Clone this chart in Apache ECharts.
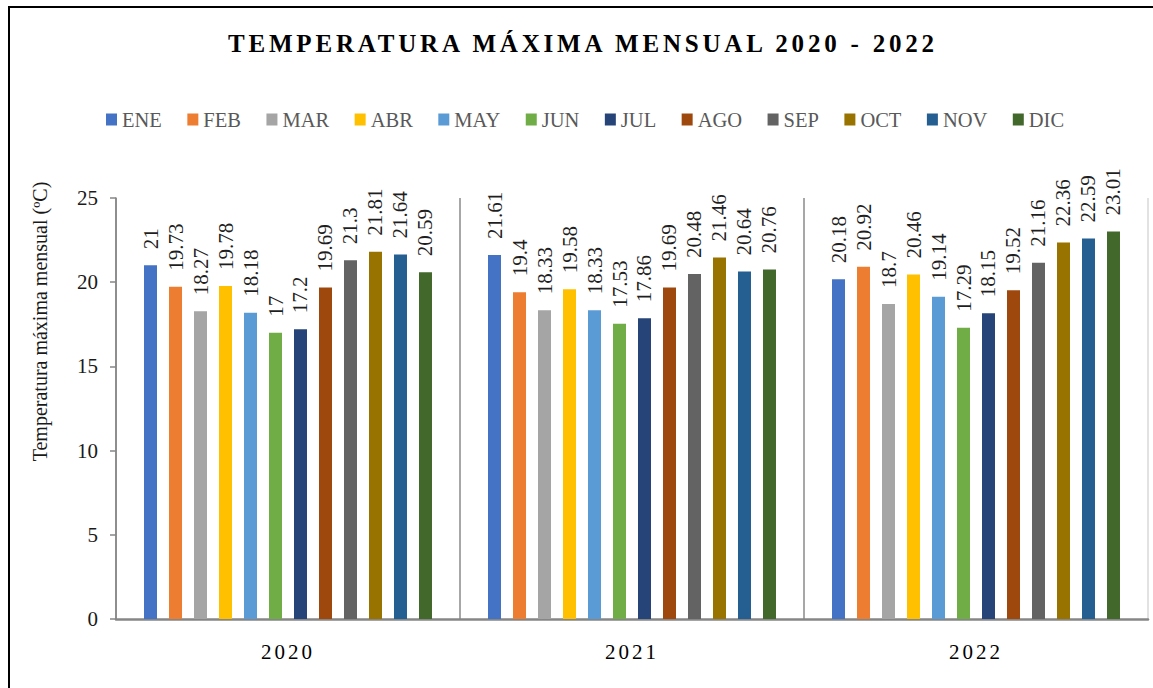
<!DOCTYPE html>
<html>
<head>
<meta charset="utf-8">
<script src="https://cdn.jsdelivr.net/npm/echarts@6/dist/echarts.min.js"></script>
<style>
  html, body { margin: 0; padding: 0; background: #fff; }
  #chart { width: 1153px; height: 688px; }
</style>
</head>
<body>
<div id="chart"></div>
<script>
// ---- data ----
const TITLE = 'TEMPERATURA MÁXIMA MENSUAL 2020 - 2022';
const Y_NAME = 'Temperatura máxima mensual (ºC)';
const categories = ['2020', '2021', '2022'];
const months = ['ENE', 'FEB', 'MAR', 'ABR', 'MAY', 'JUN', 'JUL', 'AGO', 'SEP', 'OCT', 'NOV', 'DIC'];
const ENE = [21, 21.61, 20.18];
const FEB = [19.73, 19.4, 20.92];
const MAR = [18.27, 18.33, 18.7];
const ABR = [19.78, 19.58, 20.46];
const MAY = [18.18, 18.33, 19.14];
const JUN = [17, 17.53, 17.29];
const JUL = [17.2, 17.86, 18.15];
const AGO = [19.69, 19.69, 19.52];
const SEP = [21.3, 20.48, 21.16];
const OCT = [21.81, 21.46, 22.36];
const NOV = [21.64, 20.64, 22.59];
const DIC = [20.59, 20.76, 23.01];
const monthValues = [ENE, FEB, MAR, ABR, MAY, JUN, JUL, AGO, SEP, OCT, NOV, DIC];
const yMin = 0, yMax = 25, yStep = 5;

// ---- styles ----
const colors = ['#4472C4', '#ED7D31', '#A5A5A5', '#FFC000', '#5B9BD5', '#70AD47',
                '#264478', '#9E480E', '#636363', '#997300', '#255E91', '#43682B'];
const FONT = 'Liberation Serif';

const series = months.map((m, i) => ({
  name: m,
  type: 'bar',
  data: monthValues[i],
  barWidth: 13,
  barGap: '92.3%',
  itemStyle: { color: colors[i] },
  label: {
    show: true,
    position: 'top',
    distance: 16,
    rotate: 90,
    align: 'left',
    verticalAlign: 'middle',
    fontFamily: FONT,
    fontSize: 21,
    color: '#1f1f1f',
    textBorderWidth: 0
  }
}));

const chart = echarts.init(document.getElementById('chart'), null, { renderer: 'svg' });
chart.setOption({
  animation: false,
  backgroundColor: '#fff',
  color: colors,
  textStyle: { fontFamily: FONT },
  title: {
    text: TITLE,
    left: 223,
    top: 26,
    textStyle: { fontFamily: FONT, fontSize: 25, fontWeight: 'bold', color: '#000' }
  },
  legend: {
    left: 101,
    top: 104,
    itemWidth: 11,
    itemHeight: 12,
    itemGap: 25.5,
    icon: 'rect',
    textStyle: { fontFamily: FONT, fontSize: 20.5, color: '#595959' },
    data: months
  },
  grid: { left: 116, right: 5, top: 198, bottom: 69, containLabel: false },
  xAxis: {
    type: 'category',
    data: categories,
    axisLine: { show: true, lineStyle: { color: '#868686', width: 2.5 } },
    axisTick: { show: false },
    axisLabel: { fontFamily: FONT, fontSize: 21, color: '#000', margin: 22 },
    splitLine: { show: true, lineStyle: { color: ['#8a8a8a', '#8a8a8a', '#8a8a8a', '#d9d9d9'], width: 1.5 } }
  },
  yAxis: {
    type: 'value',
    min: yMin,
    max: yMax,
    interval: yStep,
    name: Y_NAME,
    nameLocation: 'middle',
    nameGap: 66,
    nameRotate: 90,
    nameTextStyle: { fontFamily: FONT, fontSize: 20, color: '#1a1a1a', padding: [0, 0, 0, 174] },
    axisLine: { show: true, lineStyle: { color: '#868686', width: 1.5 } },
    axisTick: { show: true, inside: false, length: 6, lineStyle: { color: '#868686', width: 1.5 } },
    axisLabel: { fontFamily: FONT, fontSize: 21, color: '#1a1a1a', margin: 18 },
    splitLine: { show: false }
  },
  graphic: [{
    type: 'rect',
    shape: { x: 9, y: 7, width: 1300, height: 900 },
    style: { fill: 'none', stroke: '#000', lineWidth: 2 },
    silent: true,
    z: 100
  }],
  series: series
});

function applySpacing() {
  const texts = document.querySelectorAll('#chart text');
  texts.forEach(t => {
    const s = t.textContent;
    if (s === TITLE) t.style.letterSpacing = '3.8px';
    else if (categories.indexOf(s) >= 0) t.style.letterSpacing = '3px';
  });
}
chart.on('finished', applySpacing);
setTimeout(applySpacing, 50);
applySpacing();
</script>
</body>
</html>
